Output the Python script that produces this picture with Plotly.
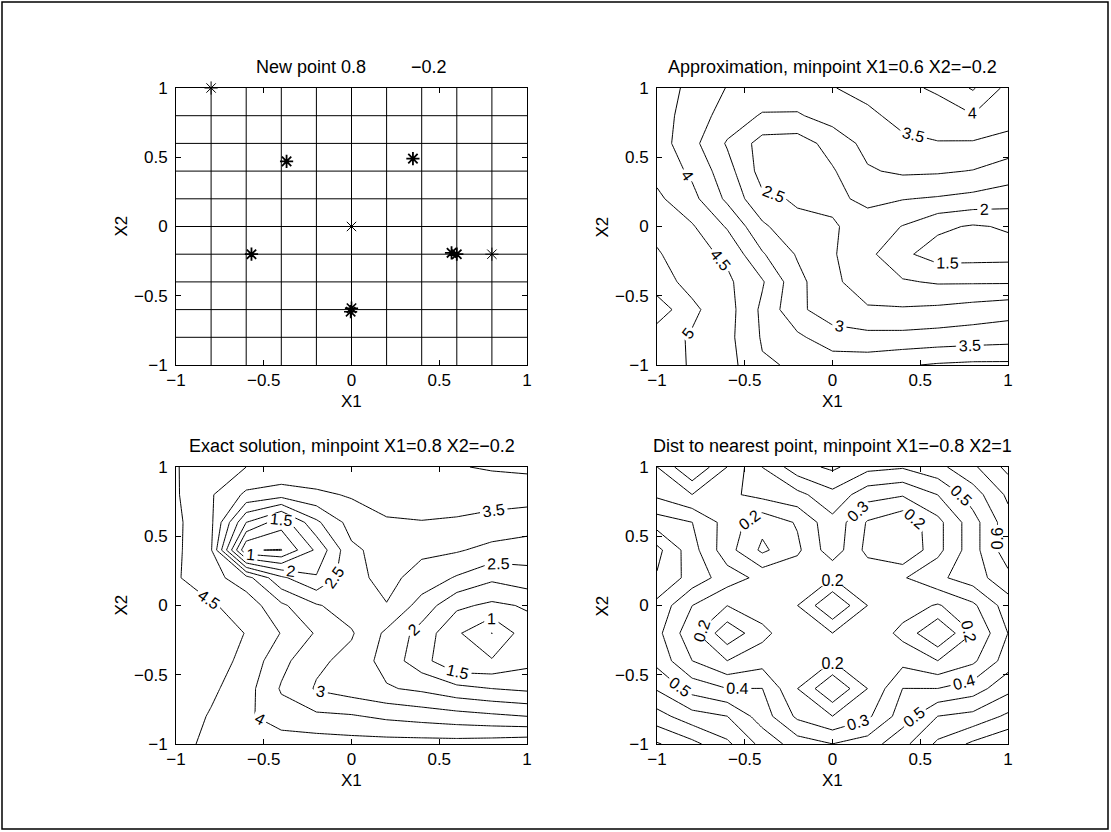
import plotly.graph_objects as go

# Grid on which all three surfaces are sampled (X1 across, X2 down the rows)
grid = [-1.0, -0.8, -0.6, -0.4, -0.2, 0.0, 0.2, 0.4, 0.6, 0.8, 1.0]

# Evaluated design points (X1, X2)
pts_x1 = [-0.8, -0.37, 0.35, -0.57, 0.0, 0.0, -0.005, 0.57, 0.6, 0.8]
pts_x2 = [1.0, 0.47, 0.49, -0.2, 0.0, -0.59, -0.615, -0.19, -0.2, -0.2]
new_point = [0.8, -0.2]

# Approximation surface, rows X2 = -1 ... 1
approx_z = [
    [5.10, 4.98, 4.70, 4.05, 3.95, 3.80, 3.80, 3.95, 4.05, 4.10, 4.10],
    [5.20, 4.95, 4.65, 3.95, 3.60, 3.20, 3.15, 3.15, 3.20, 3.25, 3.30],
    [5.80, 5.10, 4.70, 3.90, 3.10, 2.75, 2.55, 2.55, 2.60, 2.70, 2.80],
    [5.20, 4.85, 4.60, 4.05, 3.15, 2.60, 2.25, 2.05, 1.95, 1.95, 1.95],
    [5.05, 4.70, 4.40, 3.55, 2.95, 2.55, 2.13, 1.60, 1.28, 1.30, 1.32],
    [4.85, 4.55, 3.95, 3.10, 2.60, 2.55, 2.30, 1.98, 1.60, 1.45, 1.55],
    [4.60, 4.15, 3.40, 2.60, 2.45, 2.40, 2.60, 2.52, 2.45, 2.35, 2.25],
    [4.35, 3.90, 3.20, 2.30, 2.20, 2.45, 2.95, 3.08, 3.06, 2.98, 2.75],
    [4.25, 3.65, 2.95, 2.30, 2.25, 2.70, 3.15, 3.40, 3.48, 3.45, 3.30],
    [4.25, 3.75, 3.30, 2.95, 2.95, 3.20, 3.40, 3.65, 3.70, 3.97, 3.75],
    [4.30, 3.85, 3.48, 3.35, 3.30, 3.48, 3.65, 3.85, 4.10, 4.55, 3.85],
]

# Exact solution, rows X2 = -1 ... 1
exact_z = [
    [4.70, 4.35, 4.30, 4.30, 4.25, 4.20, 4.20, 4.20, 4.20, 4.25, 4.33],
    [4.80, 4.45, 4.10, 3.70, 3.60, 3.55, 3.40, 3.30, 3.20, 3.10, 3.00],
    [4.85, 4.60, 4.20, 3.45, 2.95, 2.75, 2.55, 2.40, 2.15, 2.00, 1.90],
    [4.90, 4.75, 4.35, 3.65, 3.10, 2.85, 2.30, 1.70, 1.02, 1.05, 1.35],
    [4.95, 4.80, 4.48, 3.98, 3.45, 3.05, 2.40, 1.80, 1.08, 0.49, 1.30],
    [4.85, 4.55, 4.30, 3.60, 3.05, 2.75, 2.98, 2.30, 1.60, 1.40, 1.55],
    [4.55, 4.20, 3.70, 2.60, 2.05, 2.85, 3.15, 2.80, 2.45, 2.10, 2.30],
    [4.60, 4.05, 0.52, 0.48, 1.60, 2.90, 3.20, 3.10, 3.05, 2.85, 2.75],
    [4.60, 4.10, 2.00, 1.20, 2.40, 3.20, 3.45, 3.48, 3.45, 3.35, 3.25],
    [4.55, 4.05, 3.40, 3.20, 3.40, 3.55, 3.70, 3.75, 3.70, 3.70, 3.70],
    [4.52, 4.30, 4.00, 4.00, 3.90, 3.80, 3.90, 3.95, 3.97, 4.05, 4.10],
]

# Distance to the nearest evaluated point, rows X2 = -1 ... 1
dist_z = [
    [0.910, 0.830, 0.720, 0.570, 0.450, 0.401, 0.450, 0.570, 0.720, 0.820, 0.890],
    [0.740, 0.640, 0.601, 0.450, 0.280, 0.201, 0.280, 0.450, 0.601, 0.630, 0.720],
    [0.590, 0.460, 0.401, 0.401, 0.201, 0.000, 0.201, 0.401, 0.401, 0.450, 0.570],
    [0.470, 0.301, 0.201, 0.260, 0.280, 0.201, 0.280, 0.270, 0.201, 0.280, 0.450],
    [0.430, 0.230, 0.030, 0.170, 0.280, 0.201, 0.280, 0.170, 0.000, 0.201, 0.401],
    [0.470, 0.301, 0.201, 0.260, 0.201, 0.000, 0.201, 0.250, 0.190, 0.280, 0.450],
    [0.590, 0.460, 0.350, 0.270, 0.280, 0.201, 0.280, 0.290, 0.380, 0.450, 0.570],
    [0.630, 0.440, 0.240, 0.080, 0.180, 0.360, 0.170, 0.103, 0.270, 0.460, 0.660],
    [0.450, 0.401, 0.260, 0.130, 0.210, 0.370, 0.190, 0.120, 0.270, 0.460, 0.660],
    [0.280, 0.201, 0.280, 0.330, 0.370, 0.470, 0.340, 0.310, 0.401, 0.550, 0.720],
    [0.201, 0.000, 0.201, 0.401, 0.560, 0.620, 0.530, 0.510, 0.570, 0.680, 0.830],
]

approx_min = [0.6, -0.2]
exact_min = [0.8, -0.2]
dist_min = [-0.8, 1]

tick_vals = [-1, -0.5, 0, 0.5, 1]

W, H = 1111, 832
FONT = "Liberation Sans, Arial, Helvetica, sans-serif"

# axes boxes in pixels: (left, right, top, bottom)
boxes = {
    1: (176, 527, 88, 365),
    2: (657, 1008, 88, 365),
    3: (176, 527, 467, 744),
    4: (657, 1008, 467, 744),
}


def fx(px):
    return px / W


def fy(py):
    return 1 - py / H


def fmt(v):
    s = ("%g" % v)
    return s.replace("-", "\u2212")


fig = go.Figure()

# point set with the new point
marker_widths = [1.0, 1.8, 1.8, 1.8, 1.0, 1.6, 1.6, 1.8, 1.8, 1.0]
fig.add_trace(go.Scatter(
    x=pts_x1, y=pts_x2, mode="markers", xaxis="x", yaxis="y",
    marker=dict(symbol="asterisk-open", size=11, color="black",
                line=dict(color="black", width=marker_widths)),
    cliponaxis=False, hoverinfo="skip", showlegend=False,
))

contour_style = dict(
    coloring="none", showlabels=True,
    labelfont=dict(family=FONT, size=16, color="black"),
)

fig.add_trace(go.Contour(
    x=grid, y=grid, z=approx_z, xaxis="x2", yaxis="y2",
    contours=dict(start=1.5, end=5.5, size=0.5, **contour_style),
    line=dict(color="black", width=1, smoothing=0),
    showscale=False, hoverinfo="skip",
))
fig.add_trace(go.Contour(
    x=grid, y=grid, z=exact_z, xaxis="x3", yaxis="y3",
    contours=dict(start=0.5, end=5.0, size=0.5, **contour_style),
    line=dict(color="black", width=1, smoothing=0),
    showscale=False, hoverinfo="skip",
))
fig.add_trace(go.Contour(
    x=grid, y=grid, z=dist_z, xaxis="x4", yaxis="y4",
    contours=dict(start=0.1, end=0.9, size=0.1, **contour_style),
    line=dict(color="black", width=1, smoothing=0),
    showscale=False, hoverinfo="skip",
))

axis_common = dict(
    range=[-1, 1], showgrid=False, zeroline=False, showline=True,
    mirror="ticks", linecolor="black", linewidth=1, ticks="inside",
    ticklen=5, tickcolor="black", tickwidth=1, tickvals=tick_vals,
    tickfont=dict(family=FONT, size=17, color="black"), automargin=False,
)

layout = dict(
    width=W, height=H, margin=dict(l=0, r=0, t=0, b=0),
    paper_bgcolor="white", plot_bgcolor="white", showlegend=False,
    font=dict(family=FONT, color="black"),
)
for i, (l, r, t, b) in boxes.items():
    sx = "" if i == 1 else str(i)
    layout["xaxis" + sx] = dict(axis_common, domain=[fx(l), fx(r)],
                                anchor="y" + sx)
    layout["yaxis" + sx] = dict(axis_common, domain=[fy(b), fy(t)],
                                anchor="x" + sx, ticklabelstandoff=4)
fig.update_layout(**layout)

titles = {
    1: "New point " + fmt(new_point[0]) + "\u00a0" * 9 + fmt(new_point[1]),
    2: "Approximation, minpoint X1=%s X2=%s" % (fmt(approx_min[0]), fmt(approx_min[1])),
    3: "Exact solution, minpoint X1=%s X2=%s" % (fmt(exact_min[0]), fmt(exact_min[1])),
    4: "Dist to nearest point, minpoint X1=%s X2=%s" % (fmt(dist_min[0]), fmt(dist_min[1])),
}

annotations = []
for i, (l, r, t, b) in boxes.items():
    cx = (l + r) / 2
    annotations.append(dict(
        x=fx(cx), y=fy(t - 21), xref="paper", yref="paper",
        text=titles[i], showarrow=False, xanchor="center", yanchor="middle",
        font=dict(family=FONT, size=18, color="black"),
    ))
    annotations.append(dict(
        x=fx(cx), y=fy(b + 36), xref="paper", yref="paper",
        text="X1", showarrow=False, xanchor="center", yanchor="middle",
        font=dict(family=FONT, size=17, color="black"),
    ))
    annotations.append(dict(
        x=fx(l - 55), y=fy((t + b) / 2), xref="paper", yref="paper",
        text="X2", showarrow=False, textangle=-90, xanchor="center",
        yanchor="middle", font=dict(family=FONT, size=17, color="black"),
    ))

shapes = []
# grid lines of the point plot
for g in grid[1:-1]:
    shapes.append(dict(type="line", xref="x", yref="y", x0=g, x1=g, y0=-1, y1=1,
                       line=dict(color="black", width=1), layer="below"))
    shapes.append(dict(type="line", xref="x", yref="y", x0=-1, x1=1, y0=g, y1=g,
                       line=dict(color="black", width=1), layer="below"))
# figure frame
shapes.append(dict(type="rect", xref="paper", yref="paper",
                   x0=fx(2), x1=fx(1108), y0=fy(829), y1=fy(2),
                   line=dict(color="black", width=1.5)))

fig.update_layout(annotations=annotations, shapes=shapes)

fig.write_html("out.html")
